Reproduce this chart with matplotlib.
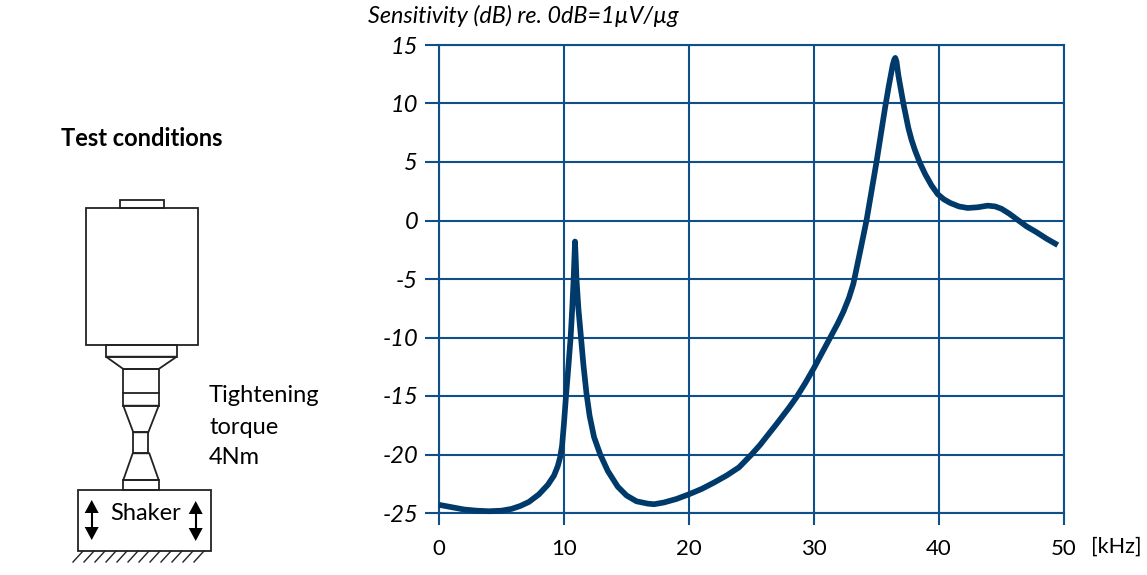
import matplotlib
matplotlib.use("Agg")
import matplotlib.pyplot as plt
from matplotlib.patches import Rectangle, Polygon

plt.rcParams['font.family'] = ['Lato', 'DejaVu Sans']

# Curve
freq = [0, 1, 2, 3, 4, 5, 5.8, 6.5, 7.2, 8, 8.7, 9.2, 9.5, 9.7, 9.85, 10.0, 10.16, 10.35, 10.53, 10.66, 10.77,
        10.84, 10.88, 10.93, 11.0, 11.15, 11.36, 11.55, 11.8, 12.05, 12.4, 12.9, 13.5, 14.3, 15, 15.8, 16.7,
        17.2, 18, 19, 20, 21, 22, 23, 24, 25, 25.67, 27, 28, 28.6, 29.3, 30, 30.7, 31.3, 31.9, 32.35, 32.8, 33.15, 33.68, 34.2,
        35.0, 35.68, 36.0, 36.3, 36.42, 36.5, 36.6, 36.75, 37.15, 37.55, 37.8, 38.08, 38.48, 38.9, 39.4, 39.9,
        40.4, 40.9, 41.6, 42.3, 43.1, 43.9, 44.5, 45, 45.6, 46.3, 47, 47.8, 48.6, 49.5]
sens = [-24.3, -24.5, -24.7, -24.8, -24.85, -24.8, -24.65, -24.4, -24.05, -23.4, -22.6, -21.8, -21, -20.2, -19.2, -17.3, -15, -12.5, -10, -7.5, -5,
        -3, -1.8, -3, -5, -7.5, -10, -12.3, -14.8, -16.7, -18.5, -20, -21.4, -22.75, -23.5, -24, -24.2,
        -24.25, -24.1, -23.8, -23.4, -22.95, -22.4, -21.8, -21.1, -20, -19.2, -17.4, -16, -15.1, -13.9, -12.6, -11.2, -10, -8.8, -7.8, -6.6, -5.4, -2.7, 0,
        5, 9.6, 11.6, 13.3, 13.75, 13.9, 13.6, 12.4, 10, 7.9, 6.9, 6, 4.9, 3.95, 3, 2.25,
        1.8, 1.5, 1.2, 1.07, 1.13, 1.27, 1.2, 1.0, 0.6, 0.05, -0.5, -1, -1.55, -2.1]

x_ticks = [0, 10, 20, 30, 40, 50]
y_ticks = [15, 10, 5, 0, -5, -10, -15, -20, -25]
y_labels = ['15', '10', '5', '0', '-5', '-10', '-15', '-20', '-25']

W, H = 1147, 575
fig = plt.figure(figsize=(W / 100, H / 100), dpi=100)

grid_col = '#0f4f8a'
curve_col = '#003a6b'

# chart axes, placed in pixels
x0, x1, y0, y1 = 439, 1064, 45, 513
ax = fig.add_axes([x0 / W, 1 - y1 / H, (x1 - x0) / W, (y1 - y0) / H])
ax.set_xlim(0, 50)
ax.set_ylim(-25, 15)
ax.set_xticks(x_ticks)
ax.set_yticks(y_ticks)
ax.set_yticklabels(y_labels, style='italic', fontsize=17)
ax.grid(True, color=grid_col, lw=1.5)
for s in ax.spines.values():
    s.set_color(grid_col)
    s.set_linewidth(1.5)
ax.tick_params(axis='x', length=8.6, width=1.5, color=grid_col, pad=10, labelsize=16)
ax.tick_params(axis='y', length=10, width=1.5, color=grid_col, pad=5)
ax.plot(freq, sens, color=curve_col, lw=4.1, solid_joinstyle='round', solid_capstyle='butt', clip_on=False, zorder=5)

# overlay in pixel coordinates for texts and the sketch
ov = fig.add_axes([0, 0, 1, 1], facecolor='none')
ov.set_xlim(0, W)
ov.set_ylim(H, 0)
ov.axis('off')

ov.text(368, 16, 'Sensitivity (dB) re. 0dB=1µV/µg', fontsize=16.8, style='italic', ha='left', va='center')
ov.text(1091, 547, '[kHz]', fontsize=15.5, ha='left', va='center')
ov.text(61, 138, 'Test conditions', fontsize=17, weight='bold', ha='left', va='center')
ov.text(209, 396, 'Tightening', fontsize=17, ha='left', va='center')
ov.text(209, 427, 'torque', fontsize=17, ha='left', va='center')
ov.text(209, 457, '4Nm', fontsize=17, ha='left', va='center')
ov.text(145.5, 513, 'Shaker', fontsize=17, ha='center', va='center')

# the tick labels are cut off at the bottom in the original
ov.add_patch(Rectangle((425, 555.5), 300, 20, fc='white', ec='none', zorder=6))

# sensor sketch
sk = dict(fc='none', ec='#222222', lw=1.3)
boxes = [(120, 200, 44, 8), (85.7, 208, 112, 136.7), (106, 344.7, 70.7, 12),
         (123.3, 369, 35.4, 36.7), (133.3, 432.3, 15, 21), (123.3, 480, 35.4, 10),
         (78.3, 490, 132.4, 61)]
for bx, by, bw, bh in boxes:
    ov.add_patch(Rectangle((bx, by), bw, bh, **sk))
tapers = [[(106, 356.7), (123.3, 369), (158.7, 369), (176.7, 356.7)],
          [(123.3, 405.7), (133.3, 432.3), (148.3, 432.3), (158.7, 405.7)],
          [(132.7, 453.3), (123.3, 480), (158.7, 480), (149.3, 453.3)]]
for pts in tapers:
    ov.add_patch(Polygon(pts, closed=True, **sk))
ov.plot([123.3, 158.7], [393.3, 393.3], color='#222222', lw=1.3)

# ground hatching under the shaker
for hx in range(83, 212, 11):
    ov.plot([hx, hx - 10], [551, 562], color='#222222', lw=1.0)

# shaker arrows
for ax_x, top, bot in [(91.7, 500, 540), (195.7, 501, 541)]:
    ov.plot([ax_x, ax_x], [top + 6, bot - 6], color='black', lw=1.5)
    ov.add_patch(Polygon([(ax_x, top), (ax_x - 7, top + 13), (ax_x + 7, top + 13)], fc='black', ec='none'))
    ov.add_patch(Polygon([(ax_x, bot), (ax_x - 7, bot - 13), (ax_x + 7, bot - 13)], fc='black', ec='none'))

fig.savefig('out.png', dpi=100)
